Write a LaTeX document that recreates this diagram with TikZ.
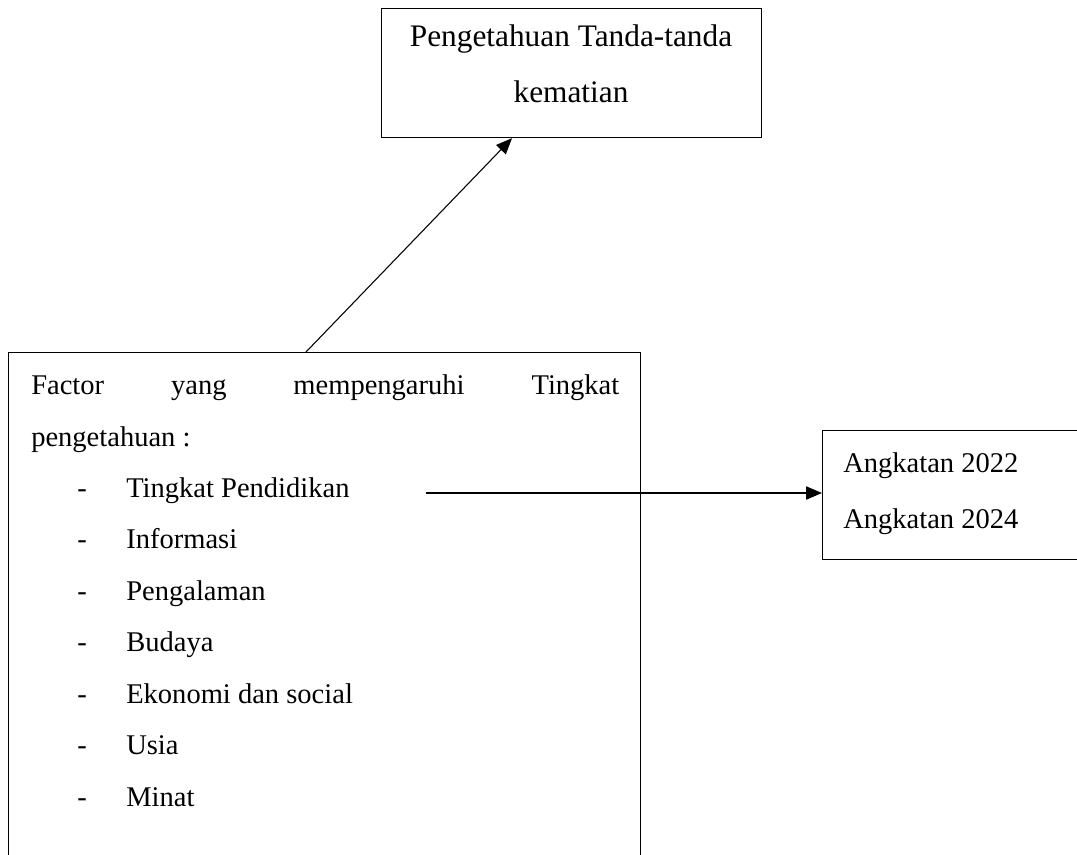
\documentclass[tikz,border=0pt]{standalone}
\usepackage{fontspec}
\setmainfont{Liberation Serif}
\usetikzlibrary{calc}
\usetikzlibrary{arrows.meta}

\begin{document}
\begin{tikzpicture}[x=0.75pt,y=-0.75pt,
        box/.style={draw,line width=0.9pt,inner sep=0pt,anchor=north west},
        txt/.style={inner sep=0pt,anchor=base west,font=\fontsize{21.4}{25}\selectfont},
        arr/.style={line width=0.8pt,-{Triangle[length=12pt,width=10pt]}}]
        \useasboundingbox (0,0) rectangle (1077,855);
        \clip (0,0) rectangle (1077,855);
        % boxes
        \node[box,minimum width=285pt,minimum height=96.75pt] (tanda) at (381,8) {};
        \node[box,minimum width=474pt,minimum height=420pt] (faktor) at (8,352) {};
        \node[box,minimum width=220pt,minimum height=96.75pt] (angkatan) at (822,430) {};
        % top box text
        \node[txt,anchor=base,font=\fontsize{23.5}{28}\selectfont] (tanda1) at (571,47) {Pengetahuan Tanda-tanda};
        \node[txt,anchor=base,font=\fontsize{23.5}{28}\selectfont] (tanda2) at (571,103) {kematian};
        % left box text
        \node[txt] (judul1) at (31,394) {\makebox[441pt][s]{Factor yang mempengaruhi Tingkat}};
        \node[txt] (judul2) at (31,446) {pengetahuan :};
        \foreach \fak [count=\i from 0] in {Tingkat Pendidikan,Informasi,Pengalaman,Budaya,Ekonomi dan social,Usia,Minat}{
            \node[txt] (dash\i) at (77,{497+51.5*\i}) {-};
            \node[txt] (fak\i) at (126,{497+51.5*\i}) {\fak};
        }
        % right box text
        \node[txt] (ang1) at (843,472) {Angkatan 2022};
        \node[txt] (ang2) at (843,528) {Angkatan 2024};
        % arrows
        \draw[arr] ($(faktor.north west)+(298,0)$) -- ($(tanda.south west)+(131,0)$);
        \coordinate (pdstart) at (426,493);
        \draw[arr] (pdstart) -- (pdstart -| angkatan.west);
    \end{tikzpicture}
\end{document}
